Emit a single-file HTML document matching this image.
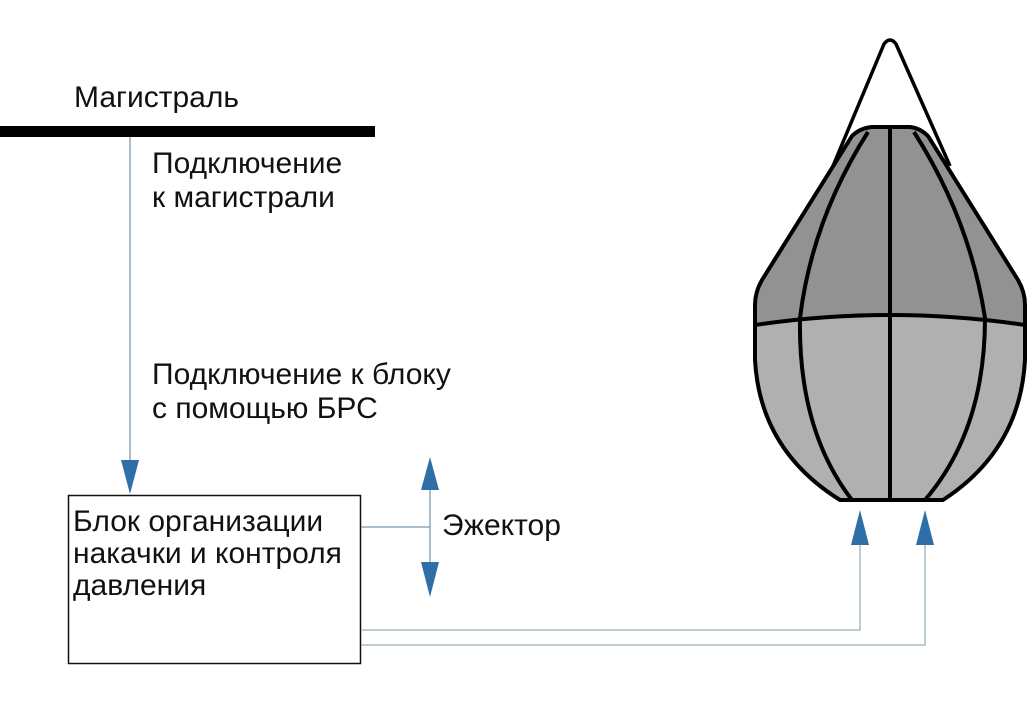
<!DOCTYPE html>
<html><head><meta charset="utf-8"><style>
body{margin:0;background:#fff;width:1029px;height:704px;overflow:hidden;font-family:"Liberation Sans",sans-serif;}
svg{position:absolute;left:0;top:0}
text{font-family:"Liberation Sans",sans-serif;font-size:30px;fill:#111}
</style></head><body>
<svg width="1029" height="704" viewBox="0 0 1029 704">
<rect x="0" y="126" width="375" height="11" fill="#000"/>
<text x="74" y="107">Магистраль</text>
<text x="152" y="173">Подключение</text>
<text x="152" y="207">к магистрали</text>
<text x="152" y="384">Подключение к блоку</text>
<text x="152" y="418">с помощью БРС</text>
<line x1="130" y1="137" x2="130" y2="462" stroke="#8fa9b8" stroke-width="1.5"/>
<polygon points="121,460 139,460 130,494" fill="#2e6fa8"/>
<rect x="68.5" y="495.5" width="292" height="168" fill="#fff" stroke="#111" stroke-width="1.5"/>
<text x="73" y="531">Блок организации</text>
<text x="73" y="563">накачки и контроля</text>
<text x="73" y="595">давления</text>
<line x1="361" y1="527" x2="430" y2="527" stroke="#8fa9b8" stroke-width="1.5"/>
<line x1="430" y1="485" x2="430" y2="568" stroke="#8fa9b8" stroke-width="1.5"/>
<polygon points="421,490 439,490 430,457" fill="#2e6fa8"/>
<polygon points="421,562 439,562 430,597" fill="#2e6fa8"/>
<text x="442" y="535">Эжектор</text>
<polyline points="361,630 860,630 860,540" fill="none" stroke="#a9bcc8" stroke-width="1.5"/>
<polyline points="361,645 925,645 925,540" fill="none" stroke="#a9bcc8" stroke-width="1.5"/>
<polygon points="851,545 869,545 860,510" fill="#2e6fa8"/>
<polygon points="916,545 934,545 925,510" fill="#2e6fa8"/>
<!-- balloon -->
<path d="M833,166 L884,44 Q890,36 896,44 L950,166" fill="none" stroke="#000" stroke-width="3.5" stroke-linejoin="round"/>
<path d="M872,127 L910,127 Q920,128 928,136 L1018,280 Q1025,292 1025,305 L1025,325 L755,325 L755,305 Q755,292 762,280 L852,136 Q860,128 872,127Z" fill="#929292"/>
<path d="M755,325 Q890,305 1025,325 L1025,360 Q1020,450 943,500 L840,500 Q760,450 755,360Z" fill="#b0b0b0"/>
<path d="M872,127 L910,127 Q920,128 928,136 L1018,280 Q1025,292 1025,305 L1025,360 Q1020,450 943,500 L840,500 Q760,450 755,360 L755,305 Q755,292 762,280 L852,136 Q860,128 872,127Z" fill="none" stroke="#000" stroke-width="4" stroke-linejoin="round"/>
<path d="M755,325 Q890,305 1025,325" fill="none" stroke="#000" stroke-width="4"/>
<line x1="890" y1="128" x2="890" y2="500" stroke="#000" stroke-width="4"/>
<path d="M868,132 Q812,220 800,318 Q798,430 852,500" fill="none" stroke="#000" stroke-width="4"/>
<path d="M914,132 Q970,220 985,318 Q985,430 925,500" fill="none" stroke="#000" stroke-width="4"/>
</svg>
</body></html>
